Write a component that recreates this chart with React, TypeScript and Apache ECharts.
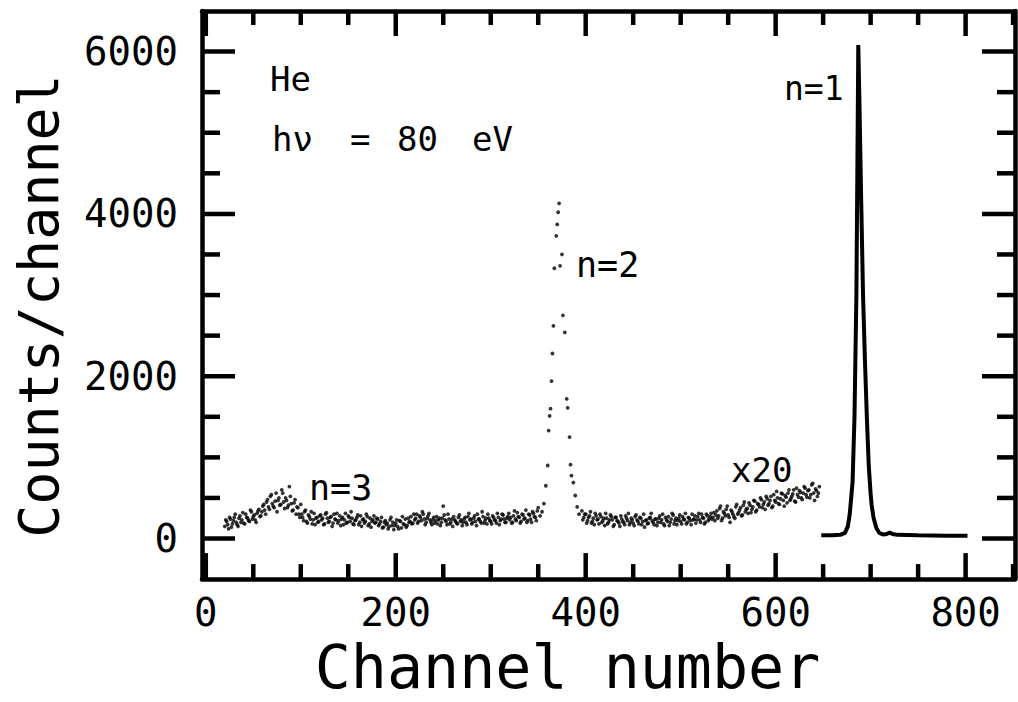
import React, { useEffect, useRef } from "react";
import * as echarts from "echarts";

// labelled ticks and tick marks
const xTickLabels = [0, 200, 400, 600, 800];
const yTickLabels = [0, 2000, 4000, 6000];
const xMajorTicks = [0, 200, 400, 600, 800];
const xMinorTicks = [50, 100, 150, 250, 300, 350, 450, 500, 550, 650, 700, 750, 850];
const yMajorTicks = [0, 2000, 4000, 6000];
const yMinorTicks = [500, 1000, 1500, 2500, 3000, 3500, 4500, 5000, 5500];

// x20 scaled background, even channels 20..350
const bgLeftStart = 20;
const bgStep = 2;
const bgLeftCounts = [
  150, 210, 120, 240, 180, 260, 200, 150, 280, 230, 190, 300, 250, 210, 330, 270, 230, 310, 360, 280, 400,
  350, 450, 390, 520, 430, 380, 560, 470, 410, 600, 450, 500, 380, 640, 430, 350, 480, 390, 300, 420,
  260, 330, 210, 290, 240, 180, 310, 250, 200, 280,
  230, 170, 300, 250, 210, 270, 190, 240, 310, 220,
  160, 260, 230, 190, 280, 210, 250, 170, 230, 290,
  200, 150, 240, 210, 270, 180, 140, 230, 190, 250,
  160, 210, 130, 200, 170, 120, 230, 160, 110, 190,
  150, 220, 130, 180, 240, 160, 200, 270, 190, 230,
  300, 210, 260, 330, 240, 200, 280, 230, 170, 260,
  220, 180, 250, 200, 400, 230, 170, 240, 200, 150,
  230, 190, 260, 210, 160, 240, 200, 270, 230, 180,
  250, 210, 300, 240, 190, 270, 220, 180, 250, 210,
  280, 230, 190, 260, 220, 300, 240, 200, 270, 230,
  190, 280, 240, 320, 260, 210, 290, 250, 200, 300,
  240, 330, 270, 220, 380,
];
// x20 scaled background, odd channels 21..349
const bgLeftOddStart = 21;
const bgLeftOddCounts = [
  230, 170, 260, 140, 220, 300, 170, 250, 200, 320, 180, 260, 220, 350, 240, 290, 200, 340, 270, 330,
  420, 300, 480, 360, 540, 400, 460, 330, 500, 420, 560, 370, 470, 410, 520, 340, 440, 300, 380, 260,
  300, 220, 350, 190, 270, 330, 230, 170, 260, 210,
  290, 250, 180, 320, 200, 260, 150, 300, 230, 190,
  280, 240, 170, 310, 200, 260, 330, 180, 220, 260,
  170, 280, 230, 190, 300, 160, 250, 210, 280, 200,
  240, 180, 260, 140, 220, 190, 150, 260, 200, 160,
  230, 120, 210, 270, 170, 140, 250, 210, 180, 300,
  250, 190, 280, 220, 300, 170, 250, 310, 200, 230,
  190, 270, 230, 160, 250, 290, 210, 300, 180, 240,
  270, 210, 180, 290, 230, 200, 260, 170, 310, 240,
  200, 280, 160, 240, 210, 330, 190, 250, 300, 220,
  180, 260, 220, 310, 170, 240, 290, 200, 250, 310,
  260, 200, 340, 220, 270, 190, 300, 240, 350, 220,
  290, 200, 310, 260, 340,
];

// n=2 peak region (x20 scaled)
const n2Channels = [352, 354, 356, 358, 360, 361, 362, 363, 364, 365, 366, 367, 369, 370, 371, 372, 373, 375, 376, 378, 380, 381, 383, 384, 385, 387, 389, 391, 393];
const n2Counts = [280, 330, 430, 650, 900, 1330, 1510, 1600, 1940, 2280, 2620, 3330, 3730, 3870, 4020, 4130, 3360, 3500, 2750, 2540, 1720, 1610, 1250, 910, 775, 690, 530, 390, 300];

// x20 scaled background, even channels 396..646
const bgRightStart = 396;
const bgRightCounts = [
  340, 260, 300, 220, 280, 190, 250, 310, 230, 180,
  270, 220, 160, 250, 200, 290, 230, 170, 260, 210,
  150, 240, 200, 280, 220, 170, 250, 190, 270, 230,
  180, 250, 210, 140, 230, 190, 260, 220, 170, 240,
  200, 280, 230, 180, 260, 210, 160, 240, 290, 220,
  170, 250, 210, 270, 230, 180, 260, 220, 300, 240,
  190, 270, 230, 300, 250, 200, 280, 240,
  310, 260, 220, 340, 280, 400, 250, 310, 360, 290,
  200, 330, 270, 390, 300, 350, 280, 410, 330, 370,
  440, 320, 390, 460, 350, 420, 500, 380, 450, 520,
  410, 470, 380, 540, 450, 500, 420, 560, 470, 530,
  440, 600, 490, 550, 460, 620, 510, 570, 480, 640,
  540, 590, 500, 660, 560, 610, 520, 640,
];
// x20 scaled background, odd channels 397..645
const bgRightOddStart = 397;
const bgRightOddCounts = [
  230, 300, 190, 260, 330, 210, 170, 280, 240, 300,
  200, 250, 310, 180, 230, 270, 150, 260, 220, 190,
  280, 210, 170, 250, 310, 200, 230, 160, 290, 210,
  260, 170, 300, 220, 180, 250, 310, 200, 240, 160,
  250, 200, 300, 160, 230, 270, 200, 310, 180, 250,
  220, 290, 180, 240, 310, 200, 250, 170, 230, 280,
  230, 310, 200, 260, 180, 300, 220, 270,
  240, 320, 290, 250, 370, 220, 330, 280, 400, 260,
  350, 300, 250, 420, 320, 380, 290, 450, 360, 310,
  410, 360, 470, 330, 430, 390, 480, 420, 360, 490,
  430, 520, 400, 470, 580, 430, 490, 550, 400, 510,
  560, 470, 520, 600, 450, 540, 590, 500, 560, 620,
  510, 600, 540, 680, 470, 590, 560,
];

// n=1 peak, unscaled (solid line)
const n1Channels = [648, 660, 668, 673, 676, 678, 681, 683, 685, 686, 687, 688, 690, 692, 694, 696, 698, 700, 701, 703, 706, 709, 713, 717, 720, 723, 728, 750, 780, 802];
const n1Counts = [40, 40, 45, 70, 150, 300, 700, 1500, 3000, 4500, 6080, 5500, 4200, 3000, 2200, 1500, 900, 550, 420, 260, 130, 70, 50, 55, 75, 55, 45, 40, 35, 35];

const FONT = "DejaVu Sans Mono";
const X_MIN = -4;
const X_MAX = 852;
const Y_MIN = -500;
const Y_MAX = 6500;

export default function App() {
  const ref = useRef<HTMLDivElement>(null);

  useEffect(() => {
    if (!ref.current) return;
    const chart = echarts.init(ref.current, undefined, { renderer: "svg" });

    const scatterData: number[][] = [];
    bgLeftCounts.forEach((v, i) => scatterData.push([bgLeftStart + i * bgStep, v]));
    bgLeftOddCounts.forEach((v, i) => scatterData.push([bgLeftOddStart + i * bgStep, v]));
    n2Channels.forEach((c, i) => scatterData.push([c, n2Counts[i]]));
    bgRightCounts.forEach((v, i) => scatterData.push([bgRightStart + i * bgStep, v]));
    bgRightOddCounts.forEach((v, i) => scatterData.push([bgRightOddStart + i * bgStep, v]));
    const lineData = n1Channels.map((c, i) => [c, n1Counts[i]]);

    const axisLine = { show: true, onZero: false, lineStyle: { color: "#000", width: 4.5 } };

    const xAxisBase = (pos: "bottom" | "top", showLabel: boolean) => ({
      type: "value",
      position: pos,
      min: X_MIN,
      max: X_MAX,
      minInterval: 200,
      maxInterval: 200,
      axisLine,
      splitLine: { show: false },
      axisTick: { show: false },
      minorTick: { show: false },
      axisLabel: {
        show: showLabel,
        margin: 14,
        color: "#000",
        fontFamily: FONT,
        fontSize: 39,
        formatter: (v: number) => (xTickLabels.indexOf(v) >= 0 ? String(v) : ""),
      },
    });

    const yAxisBase = (pos: "left" | "right", showLabel: boolean) => ({
      type: "value",
      position: pos,
      min: Y_MIN,
      max: Y_MAX,
      minInterval: 2000,
      maxInterval: 2000,
      axisLine,
      splitLine: { show: false },
      axisTick: { show: false },
      minorTick: { show: false },
      axisLabel: {
        show: showLabel,
        margin: 24,
        color: "#000",
        fontFamily: FONT,
        fontSize: 39,
        formatter: (v: number) => (yTickLabels.indexOf(v) >= 0 ? String(v) : ""),
      },
    });

    // all tick marks, positioned through the axis scales (api.coord)
    const tickStyle = { stroke: "#000", lineWidth: 4.5 };
    const renderTicks = (_p: any, api: any) => {
      const children: any[] = [];
      const addX = (v: number, lenBottom: number, lenTop: number) => {
        const b = api.coord([v, Y_MIN]);
        const t = api.coord([v, Y_MAX]);
        children.push({ type: "line", shape: { x1: b[0], y1: b[1], x2: b[0], y2: b[1] - lenBottom }, style: tickStyle });
        children.push({ type: "line", shape: { x1: t[0], y1: t[1], x2: t[0], y2: t[1] + lenTop }, style: tickStyle });
      };
      const addY = (v: number, len: number) => {
        const l = api.coord([X_MIN, v]);
        const r = api.coord([X_MAX, v]);
        children.push({ type: "line", shape: { x1: l[0], y1: l[1], x2: l[0] + len, y2: l[1] }, style: tickStyle });
        children.push({ type: "line", shape: { x1: r[0], y1: r[1], x2: r[0] - len, y2: r[1] }, style: tickStyle });
      };
      xMajorTicks.forEach((v) => addX(v, 26, 25));
      xMinorTicks.forEach((v) => addX(v, 15, 14));
      yMajorTicks.forEach((v) => addY(v, 33));
      yMinorTicks.forEach((v) => addY(v, 18));
      return { type: "group", children };
    };

    const txt = (text: string, x: number, y: number, size: number) => ({
      type: "text",
      x,
      y,
      style: {
        text,
        fill: "#000",
        font: `${size}px '${FONT}'`,
        verticalAlign: "middle",
        align: "left",
      },
    });

    chart.setOption({
      animation: false,
      backgroundColor: "#fff",
      grid: { left: 202, top: 11, width: 813, height: 570, containLabel: false },
      xAxis: [
        {
          ...xAxisBase("bottom", true),
          name: "Channel number",
          nameLocation: "middle",
          nameGap: 36,
          nameTextStyle: { color: "#000", fontFamily: FONT, fontSize: 60, padding: [0, 82, 0, 0] },
        },
        xAxisBase("top", false),
      ],
      yAxis: [
        {
          ...yAxisBase("left", true),
          name: "Counts/channel",
          nameLocation: "middle",
          nameRotate: 90,
          nameGap: 136,
          nameTextStyle: { color: "#000", fontFamily: FONT, fontSize: 55, padding: [0, 22, 0, 0] },
        },
        yAxisBase("right", false),
      ],
      series: [
        {
          type: "scatter",
          xAxisIndex: 0,
          yAxisIndex: 0,
          data: scatterData,
          symbol: "circle",
          symbolSize: 3.8,
          itemStyle: { color: "#000" },
          silent: true,
        },
        {
          type: "line",
          xAxisIndex: 0,
          yAxisIndex: 0,
          data: lineData,
          showSymbol: false,
          symbol: "none",
          smooth: false,
          lineStyle: { color: "#000", width: 4 },
          silent: true,
        },
        {
          type: "custom",
          xAxisIndex: 0,
          yAxisIndex: 0,
          silent: true,
          clip: false,
          data: [[0, 0]],
          renderItem: renderTicks,
          z: 5,
        },
      ],
      graphic: [
        txt("He", 270, 79, 34),
        txt("hν", 272, 139, 34),
        txt("=", 350, 139, 34),
        txt("80", 397, 139, 34),
        txt("eV", 472, 139, 34),
        txt("n=1", 784, 88, 33),
        txt("n=2", 576, 265, 35),
        txt("n=3", 309, 488, 35),
        txt("x20", 731, 470, 34),
      ],
    });

    return () => chart.dispose();
  }, []);

  return (
    <div
      ref={ref}
      style={{ position: "fixed", left: 0, top: 0, width: 1018, height: 702, background: "#fff" }}
    />
  );
}
